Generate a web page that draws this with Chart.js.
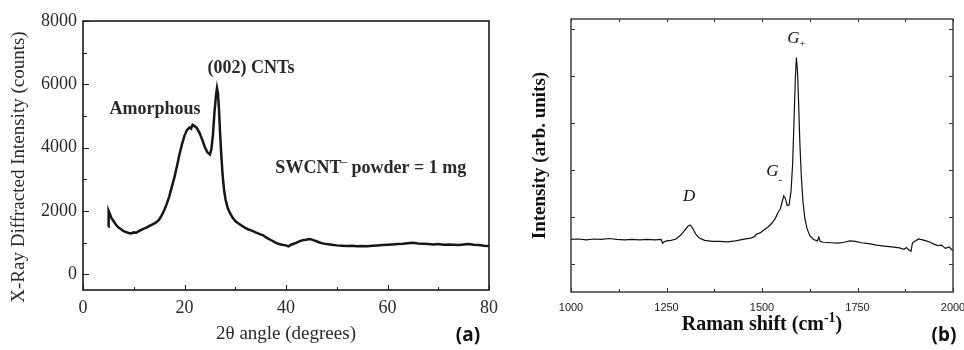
<!DOCTYPE html>
<html>
<head>
<meta charset="utf-8">
<script src="https://cdn.jsdelivr.net/npm/chart.js@4.4.1/dist/chart.umd.min.js"></script>
<style>
  html, body { margin: 0; padding: 0; background: #fff; }
  #wrap { position: relative; width: 964px; height: 350px; overflow: hidden; background: #fff; }
  #xrd { position: absolute; left: 0; top: 0; width: 500px; height: 350px; }
  #raman { position: absolute; left: 490px; top: 0; width: 474px; height: 350px; }
</style>
</head>
<body>
<div id="wrap">
  <canvas id="xrd" width="500" height="350"></canvas>
  <canvas id="raman" width="474" height="350"></canvas>
</div>
<script>
// (a) XRD pattern
const xrdAngle = [5.0, 5.05, 5.3, 5.6, 6.0, 6.5, 7.0, 7.5, 8.0, 8.5, 9.0, 9.5, 10.0, 10.5, 11.0, 11.5, 12.0, 12.5, 13.0, 13.5,
  14.0, 14.5, 15.0, 15.5, 16.0, 16.5, 17.0, 17.5, 18.0, 18.5, 19.0, 19.5, 20.0, 20.5, 21.0, 21.3, 21.6, 22.0, 22.5, 23.0,
  23.5, 24.0, 24.5, 25.0, 25.3, 25.6, 25.9, 26.2, 26.4, 26.6, 26.8, 27.0, 27.2, 27.5, 27.8, 28.1, 28.5, 29.0, 29.5, 30.0,
  30.5, 31.0, 31.5, 32.0, 32.5, 33.0, 33.5, 34.0, 34.5, 35.0, 35.5, 36.0, 36.5, 37.0, 37.5, 38.0, 38.5, 39.0, 39.5, 40.0,
  40.5, 41.0, 41.5, 42.0, 42.5, 43.0, 43.5, 44.0, 44.5, 45.0, 45.5, 46.0, 46.5, 47.0, 48.0, 49.0, 50.0, 51.0, 52.0, 53.0,
  54.0, 55.0, 56.0, 57.0, 58.0, 59.0, 60.0, 61.0, 62.0, 63.0, 64.0, 65.0, 66.0, 67.0, 68.0, 69.0, 70.0, 71.0, 72.0, 73.0,
  74.0, 75.0, 76.0, 77.0, 78.0, 79.0, 80.0];
const xrdCounts = [1500, 2000, 1900, 1780, 1680, 1560, 1470, 1420, 1360, 1330, 1300, 1290, 1320, 1310, 1360, 1400, 1440, 1470, 1520, 1560,
  1600, 1650, 1720, 1860, 2020, 2220, 2460, 2760, 3050, 3400, 3780, 4100, 4380, 4560, 4640, 4600, 4720, 4680, 4600, 4450,
  4250, 4020, 3850, 3780, 3950, 4400, 5100, 5650, 5880, 5700, 5200, 4500, 3900, 3150, 2650, 2350, 2100, 1920, 1780, 1680,
  1620, 1560, 1510, 1460, 1420, 1390, 1360, 1320, 1290, 1260, 1230, 1170, 1120, 1080, 1040, 990, 960, 940, 920, 910,
  880, 930, 960, 990, 1030, 1060, 1080, 1090, 1110, 1100, 1070, 1040, 1010, 980, 950, 930, 910, 900, 890, 900,
  880, 890, 880, 900, 910, 920, 930, 940, 950, 960, 980, 990, 970, 960, 950, 940, 950, 930, 940, 930,
  920, 940, 950, 930, 920, 900, 890];
const xrdXTicks = [0, 10, 20, 30, 40, 50, 60, 70, 80];
const xrdYTicks = [0, 1000, 2000, 3000, 4000, 5000, 6000, 7000, 8000];

// (b) Raman spectrum, arbitrary units
const ramanShift = [1000, 1020, 1040, 1060, 1080, 1100, 1120, 1140, 1160, 1180, 1200, 1220, 1236, 1240, 1244, 1250, 1262, 1275, 1288, 1298,
  1306, 1312, 1318, 1326, 1336, 1350, 1370, 1390, 1410, 1430, 1450, 1470, 1480, 1485, 1495, 1505, 1515, 1525, 1535, 1542,
  1548, 1552, 1557, 1561, 1566, 1571, 1576, 1580, 1584, 1587, 1590, 1593, 1596, 1599, 1603, 1607, 1612, 1618, 1625, 1635,
  1645, 1649, 1652, 1660, 1680, 1700, 1715, 1730, 1745, 1760, 1780, 1800, 1820, 1840, 1860, 1872, 1878, 1884, 1890, 1894,
  1900, 1910, 1920, 1930, 1940, 1950, 1960, 1970, 1980, 1990, 2000];
const ramanIntensity = [0.52, 0.53, 0.51, 0.53, 0.52, 0.54, 0.52, 0.51, 0.52, 0.51, 0.52, 0.51, 0.52, 0.44, 0.47, 0.49, 0.50, 0.53, 0.62, 0.72,
  0.80, 0.83, 0.77, 0.64, 0.55, 0.50, 0.48, 0.48, 0.47, 0.49, 0.52, 0.55, 0.58, 0.63, 0.66, 0.72, 0.78, 0.86, 0.97, 1.10,
  1.17, 1.30, 1.45, 1.40, 1.24, 1.26, 1.55, 2.10, 3.10, 3.90, 4.40, 4.10, 3.40, 2.60, 1.85, 1.35, 0.98, 0.75, 0.60, 0.52,
  0.49, 0.57, 0.48, 0.46, 0.45, 0.44, 0.46, 0.49, 0.48, 0.45, 0.43, 0.40, 0.38, 0.36, 0.34, 0.31, 0.35, 0.30, 0.27, 0.45,
  0.48, 0.53, 0.51, 0.49, 0.46, 0.42, 0.39, 0.40, 0.33, 0.36, 0.28];
const ramanXTicks = [1000, 1125, 1250, 1375, 1500, 1625, 1750, 1875, 2000];
const ramanYTicks = [0, 1, 2, 3, 4, 5];

const SERIF = "'Liberation Serif', 'Times New Roman', serif";
const SANS = "'Liberation Sans', Arial, sans-serif";

// draw a line of text made of pieces, some raised or lowered
const drawRich = (ctx, parts, cx, cy) => {
  let total = 0;
  parts.forEach(p => { ctx.font = p.font; p.w = ctx.measureText(p.t).width; total += p.w; });
  let x = cx - total / 2;
  ctx.textAlign = 'left';
  ctx.textBaseline = 'middle';
  parts.forEach(p => {
    ctx.font = p.font;
    ctx.fillText(p.t, x, cy + (p.dy || 0));
    x += p.w;
  });
};

// box, inward tick marks and the free texts
const framePlugin = (opts) => ({
  id: 'frame',
  afterDraw(chart) {
    const { ctx, chartArea: a, scales } = chart;
    ctx.save();
    ctx.strokeStyle = opts.color;
    ctx.lineWidth = opts.lineWidth;
    ctx.strokeRect(a.left, a.top, a.right - a.left, a.bottom - a.top);
    ctx.lineWidth = 1;
    const seg = (x1, y1, x2, y2) => { ctx.beginPath(); ctx.moveTo(x1, y1); ctx.lineTo(x2, y2); ctx.stroke(); };
    scales.x.ticks.forEach(t => {
      const px = Math.round(scales.x.getPixelForValue(t.value)) + 0.5;
      const len = t.label ? opts.xMajor : opts.xMinor;
      seg(px, a.bottom, px, a.bottom - len);
      if (opts.mirror) seg(px, a.top, px, a.top + opts.xMinor);
    });
    scales.y.ticks.forEach(t => {
      const py = Math.round(scales.y.getPixelForValue(t.value)) + 0.5;
      const len = t.label ? opts.yMajor : opts.yMinor;
      seg(a.left, py, a.left + len, py);
      if (opts.mirror) seg(a.right, py, a.right - len, py);
    });
    ctx.fillStyle = opts.textColor;
    // notes anchored to data values
    opts.notes.forEach(n => {
      drawRich(ctx, n.parts, scales.x.getPixelForValue(n.x), scales.y.getPixelForValue(n.y));
    });
    // axis titles that need raised text or an off-centre place
    (opts.titles || []).forEach(t => {
      ctx.save();
      ctx.translate(t.x, t.y);
      if (t.rotate) ctx.rotate(-Math.PI / 2);
      drawRich(ctx, t.parts, 0, 0);
      ctx.restore();
    });
    ctx.font = "bold 19px 'Noto Sans', 'Open Sans', sans-serif";
    ctx.textAlign = 'center';
    ctx.textBaseline = 'middle';
    ctx.fillStyle = '#111';
    ctx.fillText(opts.panel.t, opts.panel.x, opts.panel.y);
    ctx.restore();
  }
});

const setTicks = (values) => (scale) => { scale.ticks = values.map(v => ({ value: v })); };
// fixed axis band, and no extra room kept for the end labels
const fixHeight = (h) => (s) => { s.height = h; s.paddingLeft = 0; s.paddingRight = 0; };
const fixWidth = (w) => (s) => { s.width = w; s.paddingTop = 0; s.paddingBottom = 0; };
const noGrid = { display: false, drawTicks: false };

// ---------- (a) XRD ----------
new Chart(document.getElementById('xrd'), {
  type: 'line',
  data: {
    datasets: [{
      data: xrdAngle.map((x, i) => ({ x: x, y: xrdCounts[i] })),
      borderColor: '#161616',
      borderWidth: 2.5,
      pointRadius: 0,
      tension: 0
    }]
  },
  options: {
    responsive: false,
    animation: false,
    layout: { autoPadding: false, padding: { top: 21, right: 11, left: 0, bottom: 0 } },
    plugins: { legend: { display: false }, tooltip: { enabled: false } },
    scales: {
      x: {
        type: 'linear', min: 0, max: 80,
        afterBuildTicks: setTicks(xrdXTicks),
        afterFit: fixHeight(60),
        grid: noGrid, border: { display: false },
        ticks: {
          padding: 7, color: '#2a2a2a', maxRotation: 0, autoSkip: false,
          font: { family: SERIF, size: 18 },
          callback: (v) => (v % 20 === 0 ? String(v) : '')
        },
        title: {
          display: true, text: '2θ angle (degrees)', color: '#2a2a2a',
          font: { family: SERIF, size: 19 }, padding: { top: 0, bottom: 5 }
        }
      },
      y: {
        type: 'linear', min: -500, max: 8000,
        afterBuildTicks: setTicks(xrdYTicks),
        afterFit: fixWidth(83),
        grid: noGrid, border: { display: false },
        ticks: {
          padding: 6, color: '#2a2a2a', autoSkip: false,
          font: { family: SERIF, size: 18 },
          callback: (v) => (v % 2000 === 0 ? String(v) : '')
        },
        title: { display: false }
      }
    }
  },
  plugins: [framePlugin({
    color: '#1a1a1a', lineWidth: 1.6, textColor: '#2a2a2a',
    xMajor: 5, xMinor: 3, yMajor: 6, yMinor: 4, mirror: false,
    panel: { t: '(a)', x: 468, y: 336 },
    titles: [
      { x: 19, y: 167, rotate: true, parts: [{ t: 'X-Ray Diffracted Intensity (counts)', font: '19px ' + SERIF }] }
    ],
    notes: [
      { x: 14.2, y: 5220, parts: [{ t: 'Amorphous', font: 'bold 18px ' + SERIF }] },
      { x: 33.1, y: 6515, parts: [{ t: '(002) CNTs', font: 'bold 18px ' + SERIF }] },
      { x: 56.7, y: 3355, parts: [
        { t: 'SWCNT', font: 'bold 18px ' + SERIF },
        { t: '–', font: 'bold 11px ' + SERIF, dy: -6 },
        { t: ' powder = 1 mg', font: 'bold 18px ' + SERIF }
      ] }
    ]
  })]
});

// ---------- (b) Raman ----------
new Chart(document.getElementById('raman'), {
  type: 'line',
  data: {
    datasets: [{
      data: ramanShift.map((x, i) => ({ x: x, y: ramanIntensity[i] })),
      borderColor: '#111',
      borderWidth: 1.2,
      pointRadius: 0,
      tension: 0
    }]
  },
  options: {
    responsive: false,
    animation: false,
    layout: { autoPadding: false, padding: { top: 19, right: 11, left: 0, bottom: 0 } },
    plugins: { legend: { display: false }, tooltip: { enabled: false } },
    scales: {
      x: {
        type: 'linear', min: 1000, max: 2000,
        afterBuildTicks: setTicks(ramanXTicks),
        afterFit: fixHeight(58),
        grid: noGrid, border: { display: false },
        ticks: {
          padding: 9, color: '#222', maxRotation: 0, autoSkip: false,
          font: { family: SANS, size: 11 },
          callback: (v) => (v % 250 === 0 ? String(v) : '')
        },
        title: { display: false }
      },
      y: {
        type: 'linear', min: -0.6, max: 5.22,
        afterBuildTicks: setTicks(ramanYTicks),
        afterFit: fixWidth(81),
        grid: noGrid, border: { display: false },
        ticks: { display: true, callback: () => ' ', padding: 0, font: { size: 1 } },
        title: {
          display: true, text: 'Intensity (arb. units)', color: '#111',
          font: { family: SERIF, size: 19, weight: 'bold' }, padding: { top: 39, bottom: 0 }
        }
      }
    }
  },
  plugins: [framePlugin({
    color: '#333', lineWidth: 1.4, textColor: '#111',
    xMajor: 4, xMinor: 3, yMajor: 4, yMinor: 4, mirror: true,
    panel: { t: '(b)', x: 454, y: 336 },
    titles: [
      { x: 272, y: 325, rotate: false, parts: [
        { t: 'Raman shift (cm', font: 'bold 20px ' + SERIF },
        { t: '-1', font: 'bold 14px ' + SERIF, dy: -7 },
        { t: ')', font: 'bold 20px ' + SERIF }
      ] }
    ],
    notes: [
      { x: 1309, y: 1.43, parts: [{ t: 'D', font: 'italic 17px ' + SERIF }] },
      { x: 1532, y: 1.96, parts: [
        { t: 'G', font: 'italic 17px ' + SERIF },
        { t: '-', font: '11px ' + SERIF, dy: 8 }
      ] },
      { x: 1590, y: 4.81, parts: [
        { t: 'G', font: 'italic 17px ' + SERIF },
        { t: '+', font: '11px ' + SERIF, dy: 6 }
      ] }
    ]
  })]
});
</script>
</body>
</html>
